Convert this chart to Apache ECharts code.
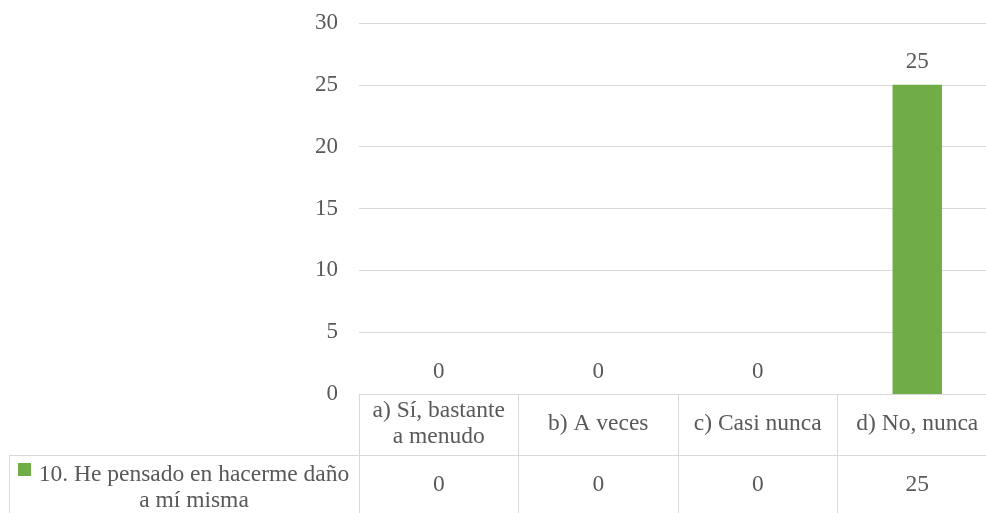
<!DOCTYPE html>
<html>
<head>
<meta charset="utf-8">
<script src="https://cdn.jsdelivr.net/npm/echarts@6/dist/echarts.min.js"></script>
<style>
  html, body { margin: 0; padding: 0; background: #fff; }
  #chart { width: 986px; height: 513px; }
</style>
</head>
<body>
<div id="chart"></div>
<script>
// Survey item 10: answer options and number of responses
const categories = ['a) Sí, bastante\na menudo', 'b) A veces', 'c) Casi nunca', 'd) No, nunca'];
const seriesName = '10. He pensado en hacerme daño\na mí misma';
const values = [0, 0, 0, 25];
const yTicks = { min: 0, max: 30, interval: 5 };

const FONT = '"Liberation Serif", "Times New Roman", serif';
const TEXT = '#595959';
const LINE = '#d9d9d9';
const GREEN = '#70AD47';
const TABLE_SIZE = 23.5;

const chart = echarts.init(document.getElementById('chart'), null, { renderer: 'canvas' });

chart.setOption({
  animation: false,
  backgroundColor: '#fff',
  // the plot runs a little past the right edge of the page
  grid: {
    left: 359, top: 23, bottom: 119, width: 638,
    containLabel: false,
    outerBoundsMode: 'none'
  },
  xAxis: [
    {
      // header row of the data table
      type: 'category',
      data: categories,
      boundaryGap: true,
      position: 'bottom',
      axisLine: { show: true, lineStyle: { color: LINE, width: 1 } },
      axisTick: { show: true, length: 119, lineStyle: { color: LINE, width: 1 } },
      axisLabel: {
        interval: 0,
        margin: 30,
        verticalAlign: 'middle',
        color: TEXT,
        fontFamily: FONT,
        fontSize: TABLE_SIZE,
        lineHeight: 26,
        align: 'center'
      }
    },
    {
      // value row of the data table
      type: 'category',
      data: categories,
      boundaryGap: true,
      position: 'bottom',
      offset: 61,
      axisLine: { show: true, lineStyle: { color: LINE, width: 1 } },
      axisTick: { show: false },
      axisLabel: {
        interval: 0,
        margin: 30,
        verticalAlign: 'middle',
        color: TEXT,
        fontFamily: FONT,
        fontSize: TABLE_SIZE,
        formatter: (v, i) => String(values[i])
      }
    }
  ],
  yAxis: {
    type: 'value',
    min: yTicks.min,
    max: yTicks.max,
    interval: yTicks.interval,
    axisLine: { show: false },
    axisTick: { show: false },
    splitLine: { lineStyle: { color: LINE, width: 1 } },
    axisLabel: { margin: 21, color: TEXT, fontFamily: FONT, fontSize: 23 }
  },
  series: [{
    name: seriesName,
    type: 'bar',
    data: values,
    barWidth: '31%',
    itemStyle: { color: GREEN },
    label: {
      show: true,
      position: 'top',
      distance: 11,
      color: TEXT,
      fontFamily: FONT,
      fontSize: 23
    }
  }],
  graphic: [
    // legend cell of the data table
    { type: 'line', shape: { x1: 9, y1: 455.5, x2: 359, y2: 455.5 }, style: { stroke: LINE, lineWidth: 1 } },
    { type: 'line', shape: { x1: 9.5, y1: 455, x2: 9.5, y2: 513 }, style: { stroke: LINE, lineWidth: 1 } },
    { type: 'rect', shape: { x: 18, y: 463, width: 13, height: 13 }, style: { fill: GREEN } },
    {
      type: 'text',
      x: 194, y: 462,
      style: {
        text: seriesName,
        align: 'center',
        verticalAlign: 'top',
        fill: TEXT,
        font: TABLE_SIZE + 'px ' + FONT,
        lineHeight: 26
      }
    }
  ]
});
</script>
</body>
</html>
